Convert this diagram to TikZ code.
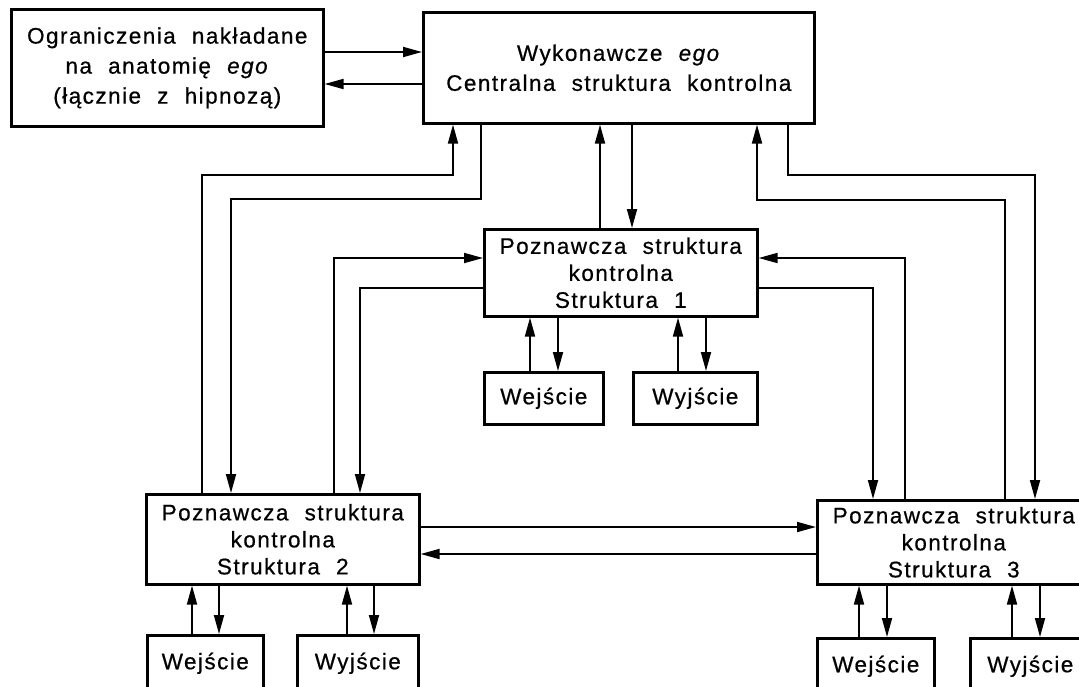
\documentclass[tikz,border=0pt]{standalone}
\usepackage{fontspec}
\setmainfont{Liberation Sans}[LetterSpace=6.5,WordSpace=2.1,FakeBold=0.6]
\usetikzlibrary{arrows.meta,calc}
\begin{document}
\begin{tikzpicture}[x=1pt,y=-1pt,
 box/.style={draw,line width=2.6pt,anchor=north west,inner sep=0pt,align=center,font=\fontsize{22.5}{27}\selectfont},
 bigbox/.style={box,font=\fontsize{22.5}{30}\selectfont},
 conn/.style={line width=1.8pt},
 arr/.style={conn,-{Triangle[length=19pt,width=10pt]}},
]
\useasboundingbox (0,0) rectangle (1079,686);
\fill[white] (0,0) rectangle (1079,686);
\clip (0,0) rectangle (1079,686);

% boxes
\node[bigbox,minimum width=312pt,minimum height=117pt] (A) at (10,8) {Ograniczenia nakładane\\na anatomię \textit{ego}\\(łącznie z hipnozą)};
\node[bigbox,minimum width=391pt,minimum height=111pt] (B) at (422,11) {Wykonawcze \textit{ego}\\Centralna struktura kontrolna};
\node[box,minimum width=273pt,minimum height=87pt] (S1) at (483,228) {Poznawcza struktura\\kontrolna\\Struktura 1};
\node[box,minimum width=273pt,minimum height=90pt] (S2) at (145,493) {Poznawcza struktura\\kontrolna\\Struktura 2};
\node[box,minimum width=273pt,minimum height=84pt] (S3) at (816,499) {Poznawcza struktura\\kontrolna\\Struktura 3};
\node[box,minimum width=119pt,minimum height=52pt] (W1) at (483,371) {Wejście};
\node[box,minimum width=124pt,minimum height=52pt] (Y1) at (632,371) {Wyjście};
\node[box,minimum width=116pt,minimum height=56pt] (W2) at (146,634) {Wejście};
\node[box,minimum width=121pt,minimum height=56pt] (Y2) at (296,634) {Wyjście};
\node[box,minimum width=117pt,minimum height=56pt] (W3) at (816,637) {Wejście};
\node[box,minimum width=120pt,minimum height=56pt] (Y3) at (969,637) {Wyjście};

% A <-> B
\coordinate (ab1) at ($(A.north east)+(0,44)$);
\draw[arr] (ab1) -- (ab1 -| B.west);
\coordinate (ba1) at ($(B.north west)+(0,73)$);
\draw[arr] (ba1) -- (ba1 -| A.east);

% S2 <-> B
\coordinate (s2u) at ($(S2.north west)+(57,0)$);
\coordinate (bu1) at ($(B.south west)+(31,50)$);
\draw[arr] (s2u) |- (bu1) -- (bu1 |- B.south);
\coordinate (bd1) at ($(B.south west)+(59,74)$);
\coordinate (s2d) at ($(S2.north west)+(86,0)$);
\draw[arr] (bd1 |- B.south) -- (bd1) -| (s2d);

% S1 <-> B
\coordinate (s1u) at ($(S1.north west)+(117,0)$);
\draw[arr] (s1u) -- (s1u |- B.south);
\coordinate (s1d) at ($(S1.north west)+(149,0)$);
\draw[arr] (s1d |- B.south) -- (s1d);

% S3 <-> B
\coordinate (s3u) at ($(S3.north west)+(189,0)$);
\coordinate (bu2) at ($(B.south west)+(335,75)$);
\draw[arr] (s3u) |- (bu2) -- (bu2 |- B.south);
\coordinate (bd2) at ($(B.south west)+(366,50)$);
\coordinate (s3d) at ($(S3.north west)+(219,0)$);
\draw[arr] (bd2 |- B.south) -- (bd2) -| (s3d);

% S1 <-> S2, S3
\coordinate (s2u2) at ($(S2.north west)+(189,0)$);
\coordinate (s1l1) at ($(S1.north west)+(0,30)$);
\draw[arr] (s2u2) |- (s1l1);
\coordinate (s1l2) at ($(S1.north west)+(0,60)$);
\coordinate (s2d2) at ($(S2.north west)+(215,0)$);
\draw[arr] (s1l2) -| (s2d2);
\coordinate (s3u2) at ($(S3.north west)+(89,0)$);
\draw[arr] (s3u2) |- (s1l1 -| S1.east);
\coordinate (s3d2) at ($(S3.north west)+(57,0)$);
\draw[arr] (s1l2 -| S1.east) -| (s3d2);

% S2 <-> S3
\coordinate (h1) at ($(S2.north east)+(0,34)$);
\draw[arr] (h1) -- (h1 -| S3.west);
\coordinate (h2) at ($(S3.north west)+(0,55)$);
\draw[arr] (h2) -- (h2 -| S2.east);

% sub boxes
\foreach \sb/\pp/\u/\d in {W1/S1/47/75, Y1/S1/46/74, W2/S2/46/73, Y2/S2/51/78, W3/S3/43/71, Y3/S3/43/71} {
  \coordinate (pu) at ($(\sb.north west)+(\u,0)$);
  \coordinate (pd) at ($(\sb.north west)+(\d,0)$);
  \draw[arr] (pu) -- (pu |- \pp.south);
  \draw[arr] (pd |- \pp.south) -- (pd);
}
\end{tikzpicture}
\end{document}
